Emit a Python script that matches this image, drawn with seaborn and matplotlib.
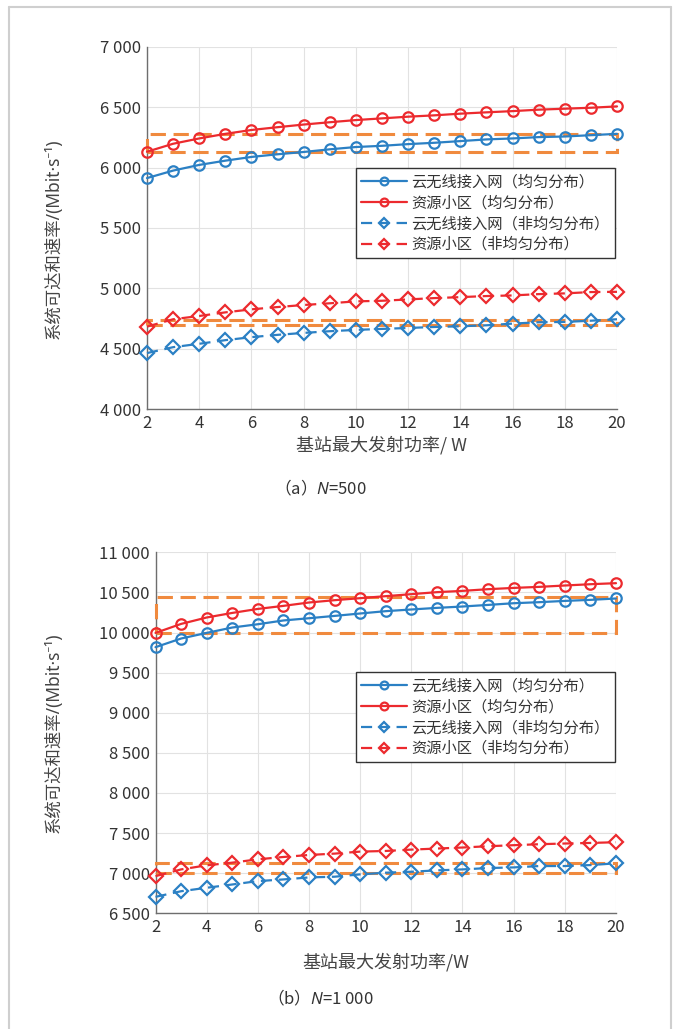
import numpy as np
import pandas as pd
import matplotlib
matplotlib.use("Agg")
import matplotlib.pyplot as plt
import seaborn as sns
from matplotlib.patches import Rectangle
from matplotlib.lines import Line2D
from matplotlib.ticker import FuncFormatter

# ---------------- data ----------------
power = list(range(2, 21))

# (a) N=500
a_cran_uni = [5913, 5975, 6022, 6057, 6088, 6110, 6129, 6151, 6170, 6180,
              6194, 6205, 6219, 6233, 6241, 6252, 6257, 6268, 6279]
a_res_uni = [6131, 6197, 6241, 6279, 6311, 6334, 6356, 6375, 6393, 6407,
             6421, 6432, 6446, 6457, 6467, 6479, 6487, 6495, 6506]
a_cran_non = [4465, 4514, 4542, 4572, 4597, 4616, 4632, 4646, 4657, 4665,
              4673, 4681, 4687, 4695, 4709, 4720, 4723, 4733, 4745]
a_res_non = [4684, 4745, 4772, 4802, 4827, 4846, 4863, 4877, 4893, 4898,
             4909, 4920, 4928, 4937, 4942, 4953, 4959, 4970, 4972]

# (b) N=1000
b_cran_uni = [9817, 9925, 9995, 10062, 10103, 10150, 10178, 10207, 10237, 10266,
              10287, 10307, 10324, 10344, 10365, 10378, 10394, 10407, 10424]
b_res_uni = [9995, 10107, 10187, 10244, 10294, 10332, 10374, 10403, 10428, 10453,
             10478, 10503, 10519, 10540, 10556, 10569, 10586, 10602, 10615]
b_cran_non = [6704, 6774, 6817, 6858, 6900, 6921, 6946, 6955, 6984, 7005,
              7017, 7034, 7046, 7063, 7071, 7088, 7088, 7100, 7122]
b_res_non = [6962, 7046, 7097, 7130, 7172, 7201, 7226, 7243, 7268, 7276,
             7293, 7306, 7319, 7335, 7348, 7360, 7369, 7376, 7385]

# highlight boxes (y ranges)
a_boxes = [(6130, 6280), (4698, 4740)]
b_boxes = [(10000, 10440), (7000, 7130)]

labels = ["云无线接入网（均匀分布）", "资源小区（均匀分布）",
          "云无线接入网（非均匀分布）", "资源小区（非均匀分布）"]
a_yticks = list(range(4000, 7001, 500))
b_yticks = list(range(6500, 11001, 500))
xticks = list(range(2, 21, 2))
xlabels = ["基站最大发射功率/ W", "基站最大发射功率/W"]
ylabel = "系统可达和速率/(Mbit·s⁻¹)"
captions = ["（a）$N$=500", "（b）$N$=1 000"]

# ---------------- style ----------------
sns.set_theme(style="whitegrid")
plt.rcParams["font.family"] = ["Noto Sans CJK SC", "DejaVu Sans"]
plt.rcParams["mathtext.fontset"] = "custom"
plt.rcParams["mathtext.rm"] = "Noto Sans"
plt.rcParams["mathtext.it"] = "Noto Sans:italic"
plt.rcParams["axes.unicode_minus"] = False

BLUE = "#2B80C4"
RED = "#EC2A2E"
ORANGE = "#F08A3E"
TXT = "#333333"

fig = plt.figure(figsize=(6.77, 10.29), dpi=100)
ax_a = fig.add_axes([147/677, 1-409.3/1029, 470/677, 362.6/1029])
ax_b = fig.add_axes([155.5/677, 1-913.2/1029, 460.5/677, 360.9/1029])

fmt = FuncFormatter(lambda v, p: f"{int(v):,}".replace(",", " "))


def draw(ax, series, boxes, yticks, xlabel, xlabpad, ylab_x, ylab_y, leg_anchor):
    styles = [
        dict(color=BLUE, marker="o", linestyle="-", markersize=7.5),
        dict(color=RED, marker="o", linestyle="-", markersize=7.5),
        dict(color=BLUE, marker="D", linestyle=(0, (5, 3)), markersize=7),
        dict(color=RED, marker="D", linestyle=(0, (5, 3)), markersize=7),
    ]
    for vals, lab, st in zip(series, labels, styles):
        df = pd.DataFrame({"P": power, "R": vals})
        sns.lineplot(data=df, x="P", y="R", ax=ax, label=lab,
                     color=st["color"], marker=st["marker"],
                     linestyle=st["linestyle"], linewidth=1.6,
                     markersize=st["markersize"], markerfacecolor="none",
                     markeredgecolor=st["color"], markeredgewidth=1.6,
                     clip_on=False, zorder=5)
    for lo, hi in boxes:
        ax.add_patch(Rectangle((power[0], lo), power[-1] - power[0], hi - lo,
                               fill=False, edgecolor=ORANGE, linewidth=2.2,
                               linestyle=(0, (5, 2.5)), zorder=4, clip_on=False))
    ax.set_xlim(2, 20)
    ax.set_ylim(yticks[0], yticks[-1])
    ax.set_xticks(xticks)
    ax.set_yticks(yticks)
    ax.yaxis.set_major_formatter(fmt)
    ax.grid(True, color="#E2E2E2", linewidth=0.8)
    for s in ["top", "right"]:
        ax.spines[s].set_visible(False)
    for s in ["left", "bottom"]:
        ax.spines[s].set_color("#6E6E6E")
        ax.spines[s].set_linewidth(1.0)
    ax.tick_params(direction="in", length=4, width=0.8, color="#6E6E6E",
                   labelsize=12, labelcolor=TXT, pad=4)
    ax.set_xlabel(xlabel, fontsize=13, color="#444444", labelpad=xlabpad)
    ax.set_ylabel(ylabel, fontsize=12.5, color="#444444",
                  family=["Noto Sans", "Noto Sans CJK SC", "DejaVu Sans"])
    ax.yaxis.set_label_coords(ylab_x, ylab_y)
    leg = ax.legend(loc="upper right", bbox_to_anchor=leg_anchor, fontsize=11,
                    frameon=True, fancybox=False, framealpha=1,
                    edgecolor="#333333", handlelength=3.0, handletextpad=0.3,
                    labelspacing=0.25, borderpad=0.35, borderaxespad=0,
                    markerscale=0.75)
    leg.get_frame().set_linewidth(1.0)
    leg.set_zorder(10)
    for t in leg.get_texts():
        t.set_color(TXT)


draw(ax_a, [a_cran_uni, a_res_uni, a_cran_non, a_res_non], a_boxes, a_yticks,
     xlabels[0], 3, (63-147)/470, 0.47, (0.996, 0.665))
draw(ax_b, [b_cran_uni, b_res_uni, b_cran_non, b_res_non], b_boxes, b_yticks,
     xlabels[1], 12, (63-155.5)/460.5, 0.5, (0.998, 0.668))

fig.text(320/677, 1-488/1029, captions[0], ha="center", va="center",
         fontsize=12, color=TXT)
fig.text(320/677, 1-998/1029, captions[1], ha="center", va="center",
         fontsize=12, color=TXT)

# outer frame
fc = "#CFCFCF"
fig.add_artist(Line2D([9/677, 671/677], [1-7/1029, 1-7/1029], color=fc, lw=1.5))
fig.add_artist(Line2D([9/677, 9/677], [0, 1-7/1029], color=fc, lw=1.5))
fig.add_artist(Line2D([671/677, 671/677], [0, 1-7/1029], color=fc, lw=1.5))

fig.savefig("out.png", dpi=100)
